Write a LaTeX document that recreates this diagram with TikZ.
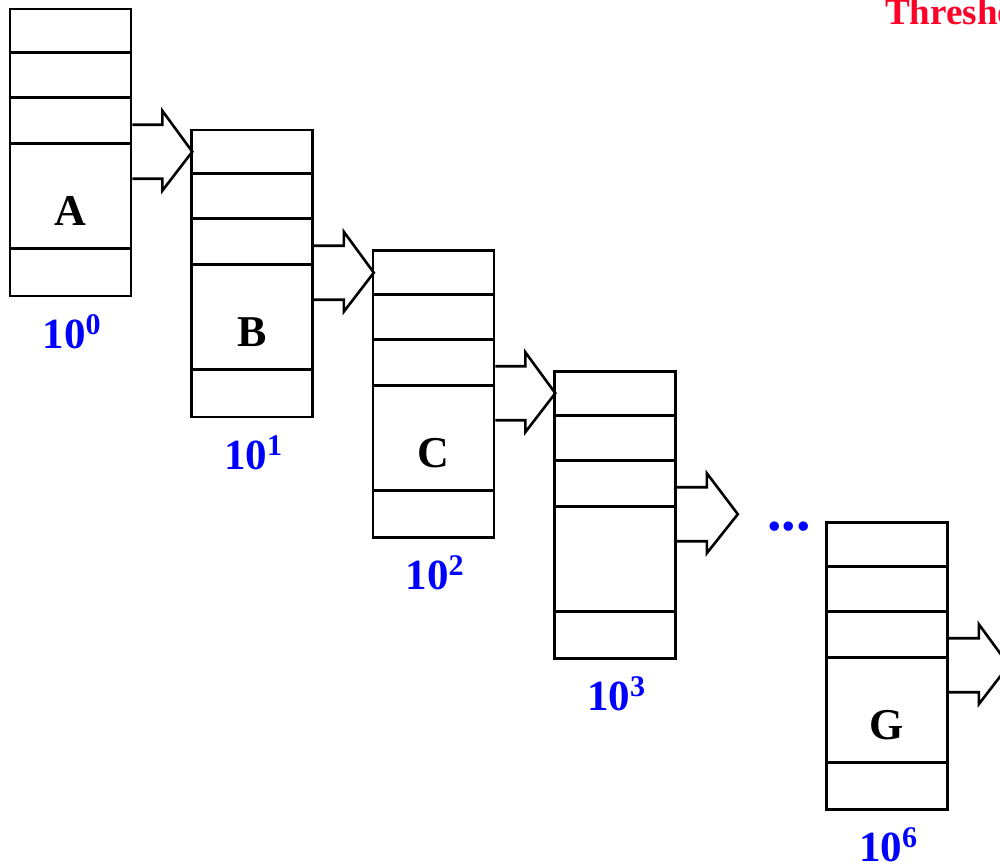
\documentclass[tikz,border=0pt]{standalone}
\usepackage{fontspec}
\setmainfont{Liberation Serif}
\usetikzlibrary{calc}
\definecolor{lblblue}{RGB}{0,0,255}
\definecolor{thred}{RGB}{255,0,40}
\tikzset{
  stack/.style={draw=black, line width=2.6pt, minimum width=121pt, minimum height=287pt, inner sep=0pt, fill=white},
  rowline/.style={line width=2.6pt},
  fatarrow/.style={draw=black, line width=2.6pt, line join=miter, fill=white},
  letter/.style={font=\fontsize{44}{44}\selectfont\bfseries, anchor=base, inner sep=0pt},
  levellbl/.style={font=\fontsize{43}{43}\selectfont\bfseries, text=lblblue, anchor=base, inner sep=0pt},
}
% power-of-ten label
\newcommand{\pten}[1]{10\raisebox{14pt}{\fontsize{30}{30}\selectfont\bfseries #1}}
% rows of a stack: separators at 45, 90, 136 and 241 below its top
\newcommand{\stackrows}[1]{%
  \foreach \d in {45,90,136,241}
    \draw[rowline] ($(#1.north west)+(0,\d)$) -- ($(#1.north east)+(0,\d)$);}
% hollow arrow leaving the right side of a stack towards a point
\newcommand{\hollowarrow}[2]{%
  \draw[fatarrow] ($(#1.north east)+(0,117)$) -- ++(30,0) -- ++(0,-14)
    -- (#2) -- ($(#1.north east)+(30,183)$) -- ++(0,-12) -- ($(#1.north east)+(0,171)$);}
\begin{document}
\begin{tikzpicture}[x=1pt,y=-1pt]
\useasboundingbox (0,0) rectangle (1000,865);
\clip (0,0) rectangle (1000,865);

% stacks
\node[stack] (A) at (70.5,152.5) {};
\node[stack] (B) at (252,273.5) {};
\node[stack] (C) at (433.5,394) {};
\node[stack] (D) at (615,515) {};
\node[stack] (G) at (887,666) {};

% arrow tips: on the left side of the next stack, or in free space
\coordinate (tipA) at ($(A.north east)+(60,144)$);
\coordinate (tipB) at ($(B.north east)+(60,144)$);
\coordinate (tipC) at ($(C.north east)+(60,144)$);
\coordinate (tipD) at ($(D.north east)+(61,144)$);
\coordinate (tipG) at ($(G.north east)+(60,144)$);
\hollowarrow{A}{tipA}
\hollowarrow{B}{tipB}
\hollowarrow{C}{tipC}
\hollowarrow{D}{tipD}
\hollowarrow{G}{tipG}

% redraw stacks on top so their left sides stay crisp
\foreach \s/\x/\y in {A/70.5/152.5,B/252/273.5,C/433.5/394,D/615/515,G/887/666}
  \draw[line width=2.6pt] (\x-60.5,\y-143.5) rectangle (\x+60.5,\y+143.5);
\foreach \s in {A,B,C,D,G} {\stackrows{\s}}

% stack letters
\node[letter] (la) at ($(A.north)+(0,218)$) {A};
\node[letter] (lb) at ($(B.north)+(0,218)$) {B};
\node[letter] (lc) at ($(C.north)+(0,218)$) {C};
\node[letter] (lg) at ($(G.north)+(0,218)$) {G};

% level sizes
\node[levellbl] (pa) at ($(A.south)+(1,51)$) {\pten{0}};
\node[levellbl] (pb) at ($(B.south)+(1,51)$) {\pten{1}};
\node[levellbl] (pc) at ($(C.south)+(1,51)$) {\pten{2}};
\node[levellbl] (pd) at ($(D.south)+(1,51)$) {\pten{3}};
\node[levellbl] (pg) at ($(G.south)+(1,51)$) {\pten{6}};

% ellipsis between the levels
\node[font=\fontsize{58}{58}\selectfont\bfseries, text=lblblue, anchor=base, inner sep=0pt] (dots) at (789,530) {...};

% title
\node[font=\fontsize{37}{37}\selectfont\bfseries, text=thred, anchor=base west, inner sep=0pt] (title) at (885,24) {Threshold};
\end{tikzpicture}
\end{document}
